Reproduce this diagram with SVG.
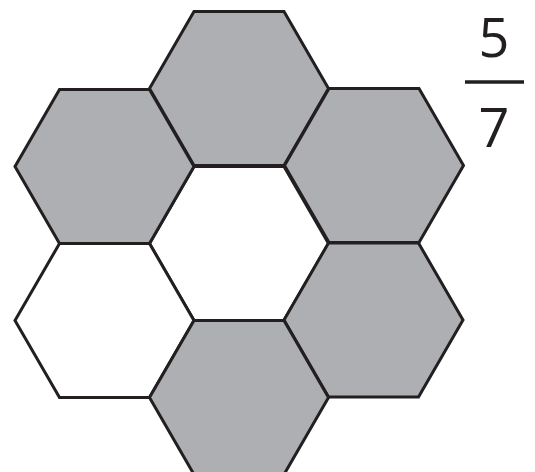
<svg xmlns="http://www.w3.org/2000/svg" width="535" height="472" viewBox="0 0 535 472">
  <style>
    .hex { stroke: #231f20; stroke-width: 3; stroke-linejoin: miter; }
    .shaded { fill: #aeafb2; }
    .plain { fill: #ffffff; }
    .num { font-family: "Open Sans", "DejaVu Sans", sans-serif; font-size: 54px; fill: #231f20; text-anchor: middle; }
  </style>
  <defs>
    <polygon id="hexshape" points="-45,-77 45,-77 89.5,0 45,77 -45,77 -89.5,0"/>
  </defs>
  <rect width="535" height="472" fill="#ffffff"/>
  <g id="hex-center" transform="translate(239,243.5)"><use href="#hexshape" class="hex plain"/></g>
  <g id="hex-bottom-left" transform="translate(104.5,320.5)"><use href="#hexshape" class="hex plain"/></g>
  <g id="hex-top" transform="translate(239,88.5)"><use href="#hexshape" class="hex shaded"/></g>
  <g id="hex-top-left" transform="translate(104.5,166.5)"><use href="#hexshape" class="hex shaded"/></g>
  <g id="hex-top-right" transform="translate(374,165.5)"><use href="#hexshape" class="hex shaded"/></g>
  <g id="hex-bottom-right" transform="translate(373.5,320)"><use href="#hexshape" class="hex shaded"/></g>
  <g id="hex-bottom" transform="translate(239,397.5)"><use href="#hexshape" class="hex shaded"/></g>
  <g id="connectors"></g>
  <g id="fraction">
    <text class="num" x="494" y="57">5</text>
    <line x1="465" y1="82" x2="524" y2="82" stroke="#231f20" stroke-width="3.5"/>
    <text class="num" x="494" y="146.5">7</text>
  </g>
</svg>
